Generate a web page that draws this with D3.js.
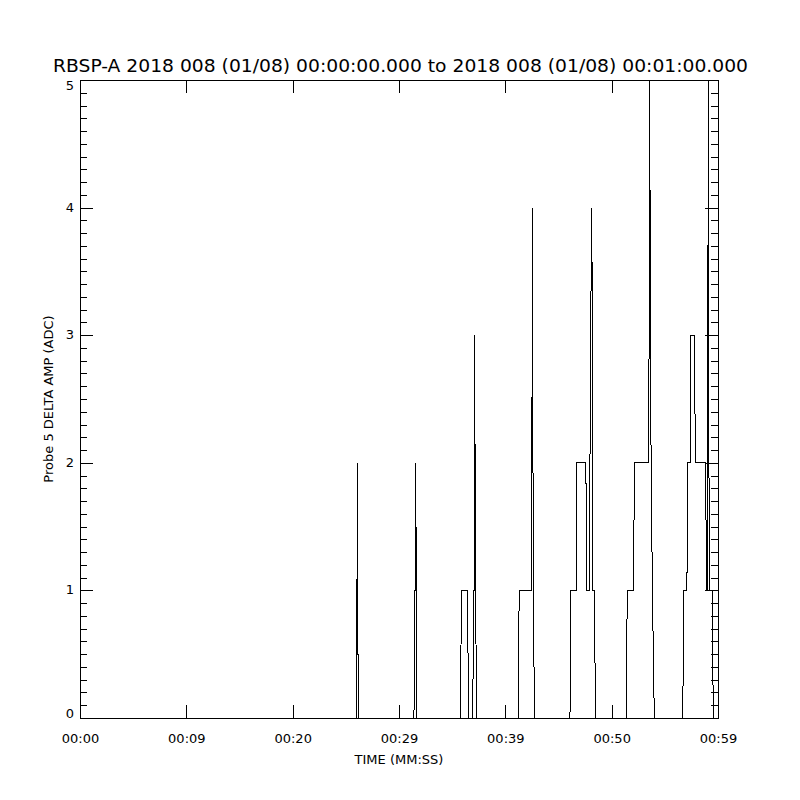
<!DOCTYPE html>
<html>
<head>
<meta charset="utf-8">
<script src="https://cdn.jsdelivr.net/npm/d3@7"></script>
<style>
  html, body { margin: 0; padding: 0; background: #fff; }
  svg { display: block; font-family: "DejaVu Sans", sans-serif; }
</style>
</head>
<body>
<svg id="chart" width="800" height="800"></svg>
<script>
// ---- data ----
const titleText = "RBSP-A 2018 008 (01/08) 00:00:00.000 to 2018 008 (01/08) 00:01:00.000";
const xAxisTitle = "TIME (MM:SS)";
const yAxisTitle = "Probe 5 DELTA AMP (ADC)";
const xTickValues = [0, 10, 20, 30, 40, 50, 60];
const xTickLabels = ["00:00", "00:09", "00:20", "00:29", "00:39", "00:50", "00:59"];
const yTickValues = [0, 1, 2, 3, 4, 5];
const yTickLabels = ["0", "1", "2", "3", "4", "5"];

// seconds since 00:00:00
const times = [0,
  25.96, 26.00, 26.05, 26.08, 26.13, 26.16,
  31.41, 31.45, 31.53, 31.56, 31.64, 31.67,
  35.74, 35.90, 36.46, 36.52,
  36.94, 37.01, 37.07, 37.11, 37.20, 37.30,
  41.22, 41.30, 42.48, 42.54, 42.63, 42.74,
  46.08, 46.16, 46.69, 46.74, 47.57, 47.68, 47.90, 48.02, 48.13, 48.18, 48.21, 48.40, 48.46,
  51.35, 51.47, 52.03, 52.16, 53.44, 53.53, 53.58, 53.64, 53.71, 53.83, 54.01,
  56.68, 56.80, 57.08, 57.13, 57.37, 57.46, 57.77, 57.88, 58.85, 58.90, 58.98, 59.01, 59.10, 59.17, 59.45, 59.56,
  60];
// ADC amplitude
const values = [0,
  0, 1, 1, 2, 1, 0,
  0, 1, 1, 2, 1, 0,
  0, 1, 1, 0,
  0, 1, 1, 3, 1, 0,
  0, 1, 1, 4, 1, 0,
  0, 1, 1, 2, 2, 1, 1, 3, 4, 3, 1, 1, 0,
  0, 1, 1, 2, 2, 3, 5, 3, 2, 1, 0,
  0, 1, 1, 2, 2, 3, 3, 2, 2, 1, 1, 2, 5, 1, 1, 0,
  0];

// ---- layout ----
const mLeft = 80, mRight = 718, mTop = 80, mBottom = 718;
const svg = d3.select("#chart");

const x = d3.scaleLinear().domain([0, 60]).range([mLeft, mRight]);
const y = d3.scaleLinear().domain([0, 5]).range([mBottom, mTop]);

const data = times.map((t, i) => ({ t, v: values[i] }));

// clip
svg.append("defs").append("clipPath").attr("id", "clip")
  .append("rect").attr("x", mLeft).attr("y", mTop - 1)
  .attr("width", mRight - mLeft + 1).attr("height", mBottom - mTop + 2);

// data line
const line = d3.line().x(d => x(d.t)).y(d => y(d.v));
svg.append("path")
  .datum(data)
  .attr("clip-path", "url(#clip)")
  .attr("d", line)
  .attr("fill", "none")
  .attr("stroke", "#000")
  .attr("stroke-width", 1)
  .attr("shape-rendering", "crispEdges");

function styleAxis(g) {
  g.attr("font-family", "DejaVu Sans, sans-serif").attr("font-size", 13);
  g.selectAll("path, line").attr("stroke", "#000").attr("shape-rendering", "crispEdges");
  g.selectAll("text").attr("fill", "#000");
}

const minorY = d3.range(0, 51).map(i => i / 10).filter(v => !yTickValues.includes(v));

// left axis (major with labels)
const gL = svg.append("g").attr("transform", `translate(${mLeft},0)`)
  .call(d3.axisLeft(y).tickValues(yTickValues)
    .tickFormat((d, i) => yTickLabels[i])
    .tickSizeInner(-13).tickSizeOuter(0).tickPadding(6));
styleAxis(gL);
gL.selectAll(".tick text")
  .attr("dy", null)
  .attr("dominant-baseline", "middle")
  .attr("y", d => {
    const py = y(d);
    const clamped = Math.max(mTop + 6, Math.min(mBottom - 4, py));
    return clamped - py;
  });
// left minor
const gLm = svg.append("g").attr("transform", `translate(${mLeft},0)`)
  .call(d3.axisLeft(y).tickValues(minorY).tickFormat("")
    .tickSizeInner(-7).tickSizeOuter(0));
styleAxis(gLm);
gLm.select(".domain").remove();

// right axis
const gR = svg.append("g").attr("transform", `translate(${mRight},0)`)
  .call(d3.axisRight(y).tickValues(yTickValues).tickFormat("")
    .tickSizeInner(-13).tickSizeOuter(0));
styleAxis(gR);
const gRm = svg.append("g").attr("transform", `translate(${mRight},0)`)
  .call(d3.axisRight(y).tickValues(minorY).tickFormat("")
    .tickSizeInner(-7).tickSizeOuter(0));
styleAxis(gRm);
gRm.select(".domain").remove();

// bottom axis
const gB = svg.append("g").attr("transform", `translate(0,${mBottom})`)
  .call(d3.axisBottom(x).tickValues(xTickValues)
    .tickFormat((d, i) => xTickLabels[i])
    .tickSizeInner(-13).tickSizeOuter(0).tickPadding(16));
styleAxis(gB);

// top axis
const gT = svg.append("g").attr("transform", `translate(0,${mTop})`)
  .call(d3.axisTop(x).tickValues(xTickValues).tickFormat("")
    .tickSizeInner(-13).tickSizeOuter(0));
styleAxis(gT);

// titles
svg.append("text")
  .attr("x", 400.5).attr("y", 72)
  .attr("text-anchor", "middle")
  .attr("font-size", 17)
  .attr("textLength", 695)
  .attr("lengthAdjust", "spacingAndGlyphs")
  .attr("fill", "#000")
  .text(titleText);

svg.append("text")
  .attr("x", 399).attr("y", 764)
  .attr("text-anchor", "middle")
  .attr("font-size", 13)
  .attr("fill", "#000")
  .text(xAxisTitle);

svg.append("text")
  .attr("transform", "translate(53,399) rotate(-90)")
  .attr("text-anchor", "middle")
  .attr("font-size", 13)
  .attr("fill", "#000")
  .text(yAxisTitle);
</script>
</body>
</html>
